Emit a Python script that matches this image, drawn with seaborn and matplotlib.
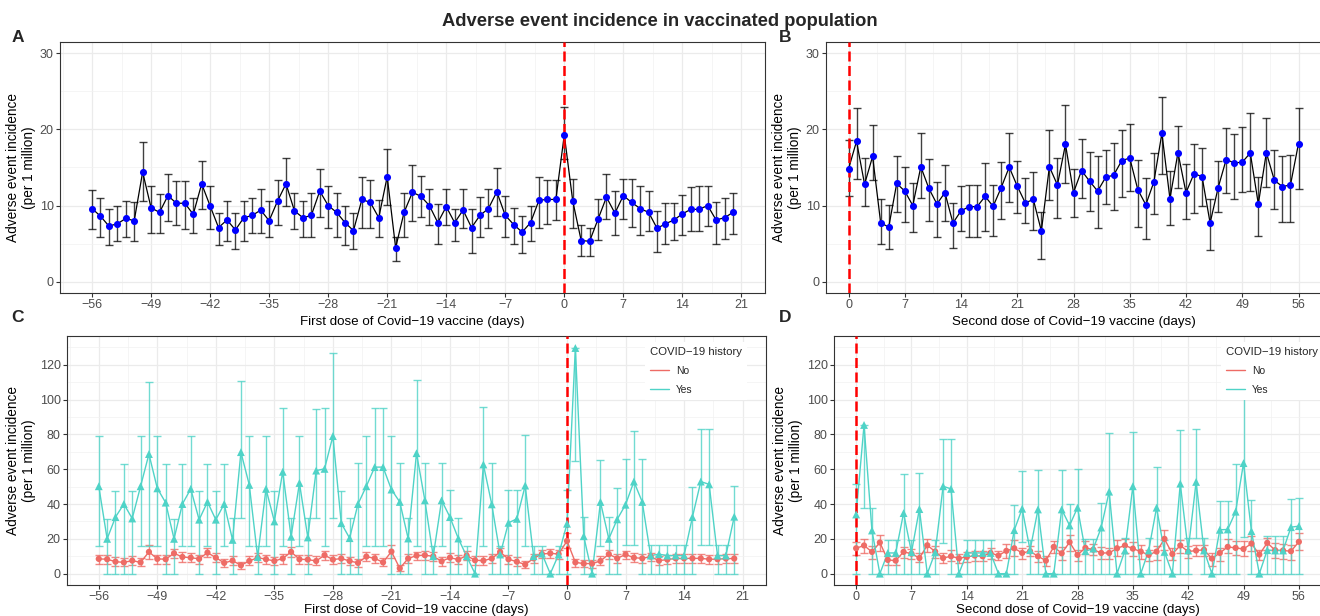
import numpy as np
import pandas as pd
import matplotlib
matplotlib.use("Agg")
import matplotlib.pyplot as plt
import seaborn as sns
from matplotlib.lines import Line2D
from matplotlib.ticker import FixedLocator

# ---------------- data ----------------
days_A = list(range(-56, 21))
A_val = [9.6, 8.6, 7.3, 7.6, 8.3, 8.0, 14.4, 9.7, 9.1, 11.3,
         10.3, 10.3, 8.85, 12.85, 9.95, 7.1, 8.1, 6.8, 8.4, 8.7,
         9.4, 8.0, 10.6, 12.85, 9.3, 8.4, 8.7, 11.9, 10.0, 9.1,
         7.75, 6.7, 10.8, 10.4, 8.4, 13.8, 4.45, 9.1, 11.75, 11.2,
         10.0, 7.75, 9.85, 7.75, 9.4, 7.1, 8.7, 9.6, 11.8, 8.7,
         7.5, 6.5, 7.75, 10.7, 10.8, 10.8, 19.3, 10.6, 5.4, 5.3,
         8.2, 11.1, 9.0, 11.3, 10.4, 9.6, 9.1, 7.0, 7.6, 8.1,
         8.9, 9.5, 9.5, 10.0, 8.1, 8.4, 9.1]
A_lo = [6.9, 5.9, 4.8, 5.3, 5.9, 5.3, 10.6, 6.4, 6.4, 8.0,
        7.4, 6.9, 6.4, 9.5, 6.9, 4.8, 5.4, 4.3, 5.4, 6.4,
        6.4, 5.9, 7.4, 10.0, 6.9, 5.9, 5.9, 8.45, 7.0, 5.9,
        4.8, 4.3, 7.0, 7.0, 5.9, 10.1, 2.7, 5.9, 8.0, 8.5,
        7.5, 4.9, 7.4, 5.4, 7.0, 3.8, 5.9, 7.0, 8.6, 5.9,
        4.9, 3.8, 5.4, 7.0, 7.6, 8.1, 16.1, 7.1, 3.3, 3.3,
        5.5, 8.2, 6.1, 8.2, 7.2, 6.1, 6.6, 3.9, 5.0, 5.5,
        6.1, 6.6, 6.7, 7.3, 5.0, 5.6, 6.2]
A_hi = [12.1, 11.0, 9.5, 9.9, 10.6, 10.5, 18.3, 12.6, 11.5, 14.2,
        13.2, 13.2, 11.0, 15.8, 12.6, 9.0, 10.6, 9.0, 10.6, 11.0,
        12.15, 10.6, 13.3, 16.3, 11.7, 10.6, 11.7, 14.8, 12.6, 11.7,
        10.0, 9.0, 13.8, 13.3, 10.7, 17.4, 5.9, 11.7, 15.3, 13.9,
        12.2, 10.2, 12.2, 9.6, 12.2, 9.6, 11.1, 12.2, 14.9, 11.3,
        9.7, 8.6, 9.9, 13.8, 13.4, 13.4, 22.9, 13.5, 7.5, 7.1,
        10.8, 14.1, 11.9, 13.5, 13.5, 12.55, 11.9, 9.3, 10.35, 10.35,
        11.4, 12.5, 12.6, 12.6, 10.5, 11.0, 11.7]

days_B = list(range(0, 57))
B_val = [14.8, 18.45, 12.8, 16.45, 7.75, 7.15, 12.9, 11.9, 10.0, 15.1,
         12.25, 10.2, 11.7, 7.7, 9.3, 9.85, 9.85, 11.2, 9.9, 12.35,
         15.05, 12.55, 10.35, 10.8, 6.65, 15.1, 12.7, 18.05, 11.7, 14.6,
         13.2, 11.9, 13.7, 14.0, 15.9, 16.25, 12.1, 10.1, 13.1, 19.5,
         10.9, 16.95, 11.7, 14.2, 13.8, 7.7, 12.35, 16.05, 15.6, 15.7,
         16.9, 10.2, 16.95, 13.3, 12.5, 12.7, 18.15]
B_lo = [11.3, 13.45, 10.0, 13.35, 5.0, 4.3, 9.2, 7.9, 6.5, 11.0,
        8.0, 5.8, 8.0, 4.4, 6.6, 5.9, 5.9, 6.7, 6.0, 8.2,
        10.5, 9.0, 7.7, 6.8, 3.0, 10.75, 8.4, 12.9, 8.5, 11.0,
        9.3, 7.0, 10.2, 9.45, 11.15, 11.9, 7.2, 5.6, 8.9, 14.2,
        7.4, 12.25, 8.2, 9.0, 10.0, 4.2, 9.15, 11.7, 10.9, 11.8,
        11.9, 6.0, 12.5, 9.5, 7.85, 7.85, 12.2]
B_hi = [18.55, 22.8, 16.3, 20.6, 10.8, 10.1, 16.55, 15.1, 13.0, 19.5,
        16.1, 13.1, 15.35, 10.35, 12.55, 12.65, 12.65, 15.65, 12.7, 15.75,
        19.5, 15.85, 13.65, 14.45, 9.1, 19.9, 16.2, 23.2, 14.8, 18.7,
        17.1, 16.45, 17.35, 18.2, 19.9, 20.7, 16.0, 13.6, 16.95, 24.3,
        14.55, 20.45, 15.5, 18.15, 17.5, 10.8, 15.85, 20.2, 19.35, 20.35,
        22.2, 13.8, 21.5, 17.25, 16.45, 16.6, 22.85]

C_no_val = [8.5, 8.3, 6.9, 6.5, 7.5, 6.5, 12.5, 8.5, 8.3, 11.7,
            9.6, 9.2, 8.5, 12.1, 9.2, 6.2, 7.5, 4.8, 7.3, 9.2,
            8.3, 7.3, 8.7, 12.5, 8.3, 8.1, 7.3, 10.6, 8.1, 8.7,
            7.3, 6.2, 9.8, 8.8, 6.5, 12.7, 3.1, 8.7, 10.4, 10.6,
            10.0, 7.1, 9.2, 8.1, 10.4, 7.7, 7.5, 8.7, 12.5, 8.3,
            6.9, 5.2, 8.8, 11.3, 11.7, 11.3, 18.8, 6.5, 5.8, 5.8,
            7.3, 11.2, 8.8, 11.0, 9.2, 8.8, 9.8, 7.5, 8.1, 8.8,
            8.8, 8.8, 8.8, 8.3, 8.3, 8.7, 8.7]
C_no_lo = [5.8, 5.4, 4.6, 4.2, 5.0, 4.2, 8.7, 5.8, 5.8, 9.0,
           6.7, 6.5, 5.8, 9.4, 6.5, 4.0, 5.0, 2.9, 4.8, 6.5,
           5.6, 4.8, 5.8, 9.6, 5.6, 5.4, 4.8, 8.1, 5.6, 6.2,
           4.8, 3.8, 7.3, 6.0, 4.2, 9.0, 1.5, 6.0, 7.7, 8.0,
           7.3, 4.6, 6.5, 5.6, 7.7, 5.2, 5.0, 6.0, 10.0, 5.8,
           4.6, 3.3, 6.2, 8.8, 9.0, 8.7, 14.6, 4.0, 3.7, 3.5,
           4.8, 8.7, 6.2, 8.7, 6.7, 6.2, 7.1, 4.8, 5.6, 6.2,
           6.2, 6.2, 6.2, 5.8, 5.8, 6.0, 6.0]
C_no_hi = [11.0, 10.6, 9.4, 8.8, 10.0, 9.0, 16.2, 11.0, 11.0, 14.2,
           12.5, 11.7, 11.0, 14.8, 11.9, 8.7, 10.0, 6.5, 10.0, 11.7,
           11.0, 9.8, 11.5, 15.4, 11.0, 10.8, 10.0, 13.3, 10.6, 11.3,
           9.8, 8.7, 12.3, 11.5, 9.0, 16.3, 5.0, 11.3, 12.7, 13.3,
           12.7, 9.6, 11.9, 10.8, 13.1, 10.2, 10.0, 11.3, 14.8, 11.0,
           9.4, 7.3, 11.5, 13.8, 14.2, 13.8, 23.5, 8.7, 7.7, 7.7,
           10.0, 13.8, 11.5, 13.3, 11.9, 11.3, 11.9, 10.2, 10.8, 11.5,
           11.5, 11.5, 11.5, 11.0, 11.0, 11.3, 11.3]
C_yes_val = [50.2, 20.0, 32.5, 40.0, 31.7, 50.2, 68.7, 49.0, 40.8, 20.0,
             40.0, 48.7, 31.0, 41.2, 31.0, 40.0, 19.4, 69.8, 51.0, 9.6,
             48.7, 30.0, 58.5, 21.2, 52.1, 20.8, 59.2, 60.2, 79.0, 29.0,
             20.4, 40.0, 50.2, 61.2, 61.2, 48.3, 41.2, 20.2, 69.2, 42.1,
             10.0, 42.1, 32.5, 20.2, 10.0, 0.0, 62.7, 39.8, 11.0, 29.2,
             31.5, 50.6, 10.0, 11.5, 0.0, 11.0, 28.7, 129.6, 21.5, 0.0,
             41.2, 20.0, 31.2, 39.6, 52.9, 41.2, 10.4, 11.2, 10.4, 10.4,
             10.4, 32.5, 52.9, 51.3, 10.4, 10.4, 32.7]
C_yes_lo = [15.8, 0, 0, 0, 0, 15.8, 15.8, 15.8, 0, 0,
            15.8, 15.8, 0, 15.8, 0, 15.8, 0, 31.7, 15.8, 0,
            15.8, 0, 15.8, 0, 15.8, 0, 31.7, 15.8, 31.7, 0,
            0, 0, 15.8, 15.8, 15.8, 0, 0, 0, 15.8, 0,
            0, 15.8, 0, 0, 0, 0, 15.8, 0, 0, 0,
            0, 15.8, 0, 0, 0, 0, 0, 64.8, 0, 0,
            15.8, 0, 0, 16.3, 16.3, 0, 0, 0, 0, 0,
            0, 0, 16.3, 16.3, 0, 0, 0]
C_yes_hi = [78.8, 31.2, 47.3, 63.1, 47.3, 78.8, 110.0, 78.8, 63.0, 31.2,
            63.0, 78.8, 47.3, 63.0, 47.3, 63.0, 31.7, 110.4, 79.2, 15.8,
            78.8, 47.3, 95.0, 31.7, 79.2, 31.7, 94.6, 95.2, 126.5, 47.5,
            31.7, 63.5, 79.2, 95.4, 95.4, 79.2, 63.5, 31.9, 111.0, 63.7,
            15.8, 63.7, 47.9, 31.9, 15.8, 0.0, 95.6, 63.7, 15.8, 47.9,
            47.9, 79.8, 15.8, 15.8, 0.0, 15.8, 48.3, 129.6, 32.7, 0.0,
            65.2, 32.5, 49.0, 65.6, 81.9, 65.8, 16.3, 16.3, 16.3, 16.3,
            16.3, 49.8, 82.9, 82.9, 16.3, 16.3, 50.2]

D_no_val = [14.6, 16.2, 12.5, 17.9, 7.9, 7.5, 12.5, 11.5, 9.0, 16.3,
            12.7, 9.0, 10.0, 8.8, 9.6, 10.4, 10.0, 11.9, 10.4, 13.1,
            14.6, 11.9, 12.9, 10.0, 7.5, 15.4, 11.7, 18.1, 10.8, 14.8,
            13.8, 11.9, 11.9, 14.6, 16.2, 14.4, 12.7, 10.8, 12.7, 20.0,
            11.3, 16.2, 12.7, 13.3, 13.7, 8.7, 11.9, 15.4, 14.8, 14.2,
            17.3, 11.0, 17.7, 13.5, 13.3, 12.9, 18.3]
D_no_lo = [10.6, 11.9, 8.5, 13.3, 5.2, 4.8, 9.0, 8.5, 6.5, 12.5,
           9.0, 6.2, 7.3, 6.2, 6.9, 7.3, 7.1, 8.5, 8.1, 9.0,
           10.0, 8.5, 10.0, 6.5, 4.6, 11.7, 7.7, 13.3, 7.1, 11.3,
           10.8, 8.3, 8.7, 10.4, 11.9, 10.4, 8.7, 7.5, 8.1, 13.8,
           8.1, 11.9, 9.2, 10.0, 10.4, 4.6, 7.1, 11.9, 11.0, 10.4,
           13.3, 7.7, 13.8, 9.0, 8.5, 8.1, 13.8]
D_no_hi = [18.3, 19.8, 15.8, 22.1, 10.4, 10.0, 15.4, 14.4, 11.9, 20.2,
           16.0, 11.9, 13.5, 11.5, 12.5, 13.3, 13.1, 14.6, 12.9, 17.3,
           19.4, 14.8, 15.8, 13.1, 10.0, 19.0, 15.4, 22.3, 13.8, 18.8,
           16.9, 15.4, 14.8, 19.4, 20.0, 18.1, 16.3, 13.8, 15.8, 25.0,
           14.8, 19.6, 15.8, 16.3, 16.2, 11.9, 14.8, 20.0, 18.8, 18.6,
           21.5, 13.8, 20.6, 17.7, 16.9, 16.7, 23.1]
D_yes_val = [34.0, 85.4, 24.8, 0.0, 11.9, 11.9, 34.8, 12.3, 37.1, 0.0,
             12.3, 50.2, 48.7, 0.0, 11.9, 11.9, 11.9, 11.9, 0.0, 0.0,
             25.0, 37.3, 13.5, 36.9, 0.0, 0.0, 36.9, 27.7, 37.9, 12.9,
             14.4, 26.5, 47.1, 0.0, 13.3, 50.2, 0.0, 13.3, 37.9, 12.5,
             0.0, 51.7, 13.3, 52.7, 13.3, 0.0, 25.2, 25.4, 35.6, 63.5,
             24.4, 0.0, 13.5, 13.3, 13.3, 26.7, 27.3]
D_yes_lo = [0, 37.9, 0, 0, 0, 0, 0, 0, 0, 0,
            0, 17.7, 0, 0, 0, 0, 0, 0, 0, 0,
            0, 18.1, 0, 0, 0, 0, 0, 0, 0, 0,
            0, 0, 0, 0, 0, 0, 0, 0, 0, 0,
            0, 0, 0, 20.6, 0, 0, 0, 0, 0, 21.2,
            0, 0, 0, 0, 0, 0, 0]
D_yes_hi = [51.3, 85.4, 37.9, 0.0, 19.2, 19.2, 57.5, 19.2, 57.9, 0.0,
            19.4, 77.5, 77.5, 0.0, 19.2, 19.2, 19.2, 19.2, 0.0, 0.0,
            39.4, 59.0, 19.6, 59.4, 0.0, 0.0, 59.6, 40.2, 60.2, 20.0,
            20.2, 40.4, 80.8, 0.0, 20.6, 81.2, 0.0, 20.6, 61.5, 19.5,
            0.0, 82.5, 20.4, 82.9, 20.4, 0.0, 41.7, 41.7, 62.9, 110.0,
            42.3, 0.0, 21.5, 21.5, 21.5, 43.1, 43.3]

ticks_first = list(range(-56, 22, 7))
ticks_second = list(range(0, 57, 7))
groups = ["No", "Yes"]

# ---------------- style ----------------
sns.set_theme(style="white")
plt.rcParams["font.family"] = ["Liberation Sans", "DejaVu Sans"]
plt.rcParams["axes.unicode_minus"] = True

NO_COL = "#EE6B65"
YES_COL = "#4FD3C7"
PAL = {"No": NO_COL, "Yes": YES_COL}

W, H = 1320, 616
fig = plt.figure(figsize=(W / 100, H / 100), dpi=100)


def ax_at(l, t, r, b):
    return fig.add_axes([l / W, 1 - b / H, (r - l) / W, (b - t) / H])


def style(ax, xlim, ylim, xt, yt, xlabel, xpad):
    ax.set_xlim(*xlim)
    ax.set_ylim(*ylim)
    ax.xaxis.set_major_locator(FixedLocator(xt))
    ax.xaxis.set_minor_locator(FixedLocator([t + 3.5 for t in xt] + [xt[0] - 3.5]))
    ax.yaxis.set_major_locator(FixedLocator(yt))
    step = yt[1] - yt[0]
    ax.yaxis.set_minor_locator(FixedLocator([t + step / 2 for t in yt] + [yt[0] - step / 2]))
    ax.grid(which="major", color="#EBEBEB", lw=0.9)
    ax.grid(which="minor", color="#F1F1F1", lw=0.5)
    ax.set_axisbelow(True)
    for s in ax.spines.values():
        s.set_color("#333333")
        s.set_linewidth(0.8)
        s.set_visible(True)
    ax.tick_params(which="major", length=2.6, width=0.8, color="#333333",
                   labelsize=9.0, labelcolor="#4D4D4D", pad=2,
                   bottom=True, left=True)
    ax.tick_params(which="minor", length=0)
    ax.set_xlabel(xlabel, fontsize=9.6, color="black", labelpad=xpad)
    ax.set_ylabel("Adverse event incidence\n(per 1 million)", fontsize=9.8,
                  color="black", labelpad=2.5, linespacing=1.2)


def vline(ax):
    ax.axvline(0, color="#FF0000", lw=1.8, ls=(0, (4, 1.8)), zorder=4)


def draw_single(ax, days, val, lo, hi):
    v = np.array(val)
    ax.errorbar(days, v, yerr=[v - np.array(lo), np.array(hi) - v], fmt="none",
                ecolor="black", alpha=0.75, elinewidth=1.0, capsize=2.7,
                capthick=1.0, zorder=2)
    sns.lineplot(x=days, y=val, color="black", lw=0.9, ax=ax, zorder=3)
    vline(ax)
    sns.scatterplot(x=days, y=val, color="#0000FF", s=26, linewidth=0,
                    ax=ax, zorder=5)


def draw_group(ax, days, no_v, no_lo, no_hi, yes_v, yes_lo, yes_hi):
    n = len(days)
    df = pd.DataFrame({"day": list(days) * 2, "val": list(no_v) + list(yes_v),
                       "grp": ["No"] * n + ["Yes"] * n})
    sns.lineplot(data=df, x="day", y="val", hue="grp", palette=PAL, lw=1.0,
                 legend=False, ax=ax, zorder=3, estimator=None)
    for g, v, lo, hi in [("No", no_v, no_lo, no_hi), ("Yes", yes_v, yes_lo, yes_hi)]:
        v = np.array(v)
        ax.errorbar(days, v, yerr=[v - np.array(lo), np.array(hi) - v], fmt="none",
                    ecolor=PAL[g], alpha=0.8, elinewidth=1.0, capsize=2.8,
                    capthick=1.0, zorder=2)
    vline(ax)
    sns.scatterplot(data=df, x="day", y="val", hue="grp", style="grp",
                    markers={"No": "o", "Yes": "^"}, palette=PAL,
                    size="grp", sizes={"No": 20, "Yes": 32},
                    linewidth=0, legend=False, ax=ax, zorder=5)
    handles = [Line2D([0], [0], color=PAL[g], lw=1.0) for g in groups]
    leg = ax.legend(handles, groups, title="COVID\u221219 history", loc="center",
                    bbox_to_anchor=(0.9, 0.86), frameon=True, fontsize=7.4,
                    title_fontsize=8.2, handlelength=1.8, handletextpad=0.7,
                    labelspacing=0.85, borderpad=0.5, framealpha=1,
                    edgecolor="white", fancybox=False, alignment="left")
    leg.get_frame().set_linewidth(0)
    leg.set_zorder(10)


# ---------------- panels ----------------
axA = ax_at(60, 42, 765, 293)
draw_single(axA, days_A, A_val, A_lo, A_hi)
style(axA, (-59.8, 23.8), (-1.5, 31.5), ticks_first, [0, 10, 20, 30],
      "First dose of Covid\u221219 vaccine (days)", 3)

axB = ax_at(826, 42, 1321, 293)
draw_single(axB, days_B, B_val, B_lo, B_hi)
style(axB, (-2.8, 58.8), (-1.5, 31.5), ticks_second, [0, 10, 20, 30],
      "Second dose of Covid\u221219 vaccine (days)", 3)

axC = ax_at(67, 336, 766, 585)
draw_group(axC, days_A, C_no_val, C_no_lo, C_no_hi, C_yes_val, C_yes_lo, C_yes_hi)
style(axC, (-59.8, 23.8), (-6.5, 136.5), ticks_first, [0, 20, 40, 60, 80, 100, 120],
      "First dose of Covid\u221219 vaccine (days)", 0.5)

axD = ax_at(834, 336, 1321, 585)
draw_group(axD, days_B, D_no_val, D_no_lo, D_no_hi, D_yes_val, D_yes_lo, D_yes_hi)
style(axD, (-2.8, 58.8), (-6.5, 136.5), ticks_second, [0, 20, 40, 60, 80, 100, 120],
      "Second dose of Covid\u221219 vaccine (days)", 0.5)

fig.text(0.5, 1 - 21 / H, "Adverse event incidence in vaccinated population",
         ha="center", va="center", fontsize=13.2, fontweight="bold")
for lab, x, y in [("A", 18, 38), ("B", 785, 38), ("C", 18, 317), ("D", 785, 318)]:
    fig.text(x / W, 1 - y / H, lab, ha="center", va="center", fontsize=12.5,
             fontweight="bold")

fig.savefig("out.png", dpi=100)
